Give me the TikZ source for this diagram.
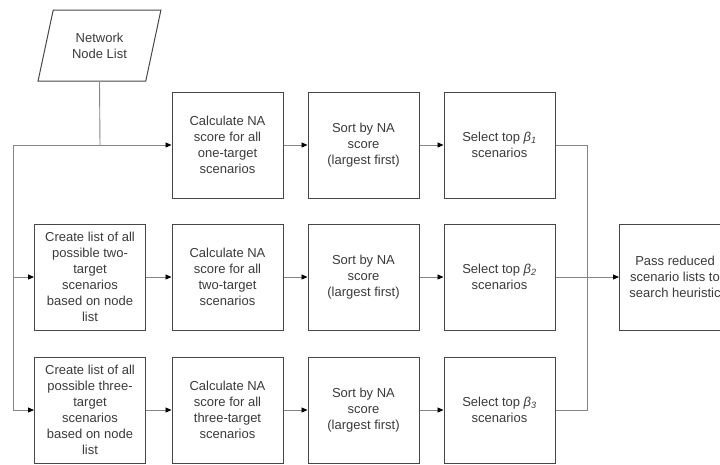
\documentclass[tikz,border=0pt]{standalone}
\usepackage{fontspec}
\setmainfont{Liberation Sans}
\usetikzlibrary{arrows.meta,shapes.geometric}
\definecolor{txt}{HTML}{3A3A3A}
\definecolor{boxc}{HTML}{474747}
\definecolor{linec}{HTML}{858585}
\begin{document}
\begin{tikzpicture}[x=1pt,y=-1pt,
  font=\fontsize{13}{16}\selectfont, text=txt,
  box/.style={draw=boxc, line width=1pt, minimum width=111, minimum height=106,
    align=center, inner sep=2pt},
  conn/.style={draw=linec, line width=0.9pt},
  arr/.style={conn, -{Triangle[length=6pt,width=5pt,color=black,fill=black]}}]
\useasboundingbox (0,0) rectangle (720,464);
\clip (0,0) rectangle (720,464);

\node[trapezium, draw=boxc, line width=1pt, trapezium left angle=70.6,
  trapezium right angle=109.4, trapezium stretches=true, minimum width=123,
  minimum height=71, inner sep=0pt, align=center] (net) at (99.5,45.5) {Network\\Node List};

% row 1
\node[box] (calc1) at (227.5,145) {Calculate NA\\score for all\\one-target\\scenarios};
\node[box] (sort1) at (363.5,145) {Sort by NA\\score\\(largest first)};
\node[box] (sel1) at (499.5,145) {Select top \textit{β\textsubscript{1}}\\scenarios};
% row 2
\node[box] (create2) at (90,277) {Create list of all\\possible two-\\target\\scenarios\\based on node\\list};
\node[box] (calc2) at (227.5,277) {Calculate NA\\score for all\\two-target\\scenarios};
\node[box] (sort2) at (363.5,277) {Sort by NA\\score\\(largest first)};
\node[box] (sel2) at (499.5,277) {Select top \textit{β\textsubscript{2}}\\scenarios};
\node[box] (pass) at (675,277) {Pass reduced\\scenario lists to\\search heuristic};
% row 3
\node[box] (create3) at (90,410) {Create list of all\\possible three-\\target\\scenarios\\based on node\\list};
\node[box] (calc3) at (227.5,410) {Calculate NA\\score for all\\three-target\\scenarios};
\node[box] (sort3) at (363.5,410) {Sort by NA\\score\\(largest first)};
\node[box] (sel3) at (499.5,410) {Select top \textit{β\textsubscript{3}}\\scenarios};

\coordinate (j1) at (100,145);
\coordinate (lb) at (13,145);
\coordinate (rb) at (587,145);

\draw[conn] (net.center |- net.south) -- (j1);
\draw[arr] (j1) -- (calc1.west);
\draw[conn] (j1) -- (lb);
\draw[arr] (lb) |- (create2.west);
\draw[arr] (lb) |- (create3.west);

\draw[arr] (calc1) -- (sort1);
\draw[arr] (sort1) -- (sel1);
\draw[arr] (create2) -- (calc2);
\draw[arr] (calc2) -- (sort2);
\draw[arr] (sort2) -- (sel2);
\draw[arr] (create3) -- (calc3);
\draw[arr] (calc3) -- (sort3);
\draw[arr] (sort3) -- (sel3);

\draw[conn] (sel1.east) -- (rb) |- (sel3.east);
\draw[arr] (sel2.east) -- (pass.west);
\end{tikzpicture}
\end{document}
